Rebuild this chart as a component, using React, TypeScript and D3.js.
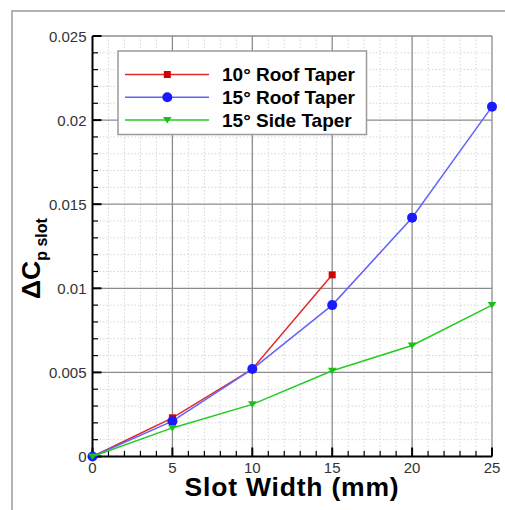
import React from "react";
import * as d3 from "d3";

// Slot width (mm) sampled for each configuration
const slotWidths = [0, 5, 10, 15, 20, 25];

// ΔCp slot per configuration
const roof10 = [0, 0.0023, 0.0052, 0.0108];
const roof15 = [0, 0.0021, 0.0052, 0.009, 0.0142, 0.0208];
const side15 = [0, 0.0017, 0.0031, 0.0051, 0.0066, 0.009];

const seriesNames = ["10° Roof Taper", "15° Roof Taper", "15° Side Taper"];

const xTicks = [0, 5, 10, 15, 20, 25];
const yTicks = [0, 0.005, 0.01, 0.015, 0.02, 0.025];
const yTickLabels = ["0", "0.005", "0.01", "0.015", "0.02", "0.025"];

const W = 505;
const H = 510;
const plot = { left: 92.5, right: 492, top: 36, bottom: 456.5 };
const FONT = "'Liberation Sans', Arial, Helvetica, sans-serif";

type Marker = "square" | "circle" | "triangle";

const series: { name: string; values: number[]; line: string; fill: string; marker: Marker }[] = [
  { name: seriesNames[0], values: roof10, line: "#e02a2a", fill: "#d40000", marker: "square" },
  { name: seriesNames[1], values: roof15, line: "#6262ff", fill: "#1a1aff", marker: "circle" },
  { name: seriesNames[2], values: side15, line: "#22cc22", fill: "#18c018", marker: "triangle" },
];

function MarkerShape({ kind, x, y, fill }: { kind: Marker; x: number; y: number; fill: string }) {
  if (kind === "square") return <rect x={x - 3.5} y={y - 3.5} width={7} height={7} fill={fill} />;
  if (kind === "circle") return <circle cx={x} cy={y} r={5} fill={fill} />;
  return <path d={`M${x - 4.3},${y - 3} L${x + 4.3},${y - 3} L${x},${y + 3.5} Z`} fill={fill} />;
}

export default function App() {
  const x = d3.scaleLinear().domain([0, 25]).range([plot.left, plot.right]);
  const y = d3.scaleLinear().domain([0, 0.025]).range([plot.bottom, plot.top]);

  const xMinor = d3.range(0, 26, 1).filter((v) => v % 5 !== 0);
  const yMinor = d3.range(0, 26, 1).filter((v) => v % 5 !== 0).map((v) => v / 1000);

  const line = d3
    .line<number>()
    .x((_, i) => x(slotWidths[i]))
    .y((d) => y(d));

  return (
    <svg
      width={W}
      height={H}
      style={{ position: "absolute", left: 0, top: 0, background: "#fff" }}
      fontFamily={FONT}
    >
      {/* outer frame */}
      <path d={`M12,${H + 2} L12,11 L${W + 2},11`} fill="none" stroke="#9a9a9a" strokeWidth={1.5} />

      {/* minor grid */}
      <g stroke="#d6d6d6" strokeWidth={1} strokeDasharray="1.5,2">
        {xMinor.map((v) => (
          <line key={`xm${v}`} x1={x(v)} x2={x(v)} y1={plot.top} y2={plot.bottom} />
        ))}
        {yMinor.map((v) => (
          <line key={`ym${v}`} x1={plot.left} x2={plot.right} y1={y(v)} y2={y(v)} />
        ))}
      </g>

      {/* major grid */}
      <g stroke="#8c8c8c" strokeWidth={1.3}>
        {xTicks.slice(1).map((v) => (
          <line key={`xg${v}`} x1={x(v)} x2={x(v)} y1={plot.top} y2={plot.bottom} />
        ))}
        {yTicks.slice(1).map((v) => (
          <line key={`yg${v}`} x1={plot.left} x2={plot.right} y1={y(v)} y2={y(v)} />
        ))}
      </g>

      {/* axes */}
      <g stroke="#000">
        <line x1={plot.left} x2={plot.left} y1={plot.top} y2={plot.bottom} strokeWidth={2} />
        <line x1={plot.left} x2={plot.right} y1={plot.bottom} y2={plot.bottom} strokeWidth={2} />
        {yTicks.map((v) => (
          <line key={`yt${v}`} x1={plot.left} x2={plot.left + 9} y1={y(v)} y2={y(v)} strokeWidth={2} />
        ))}
        {yMinor.map((v) => (
          <line key={`ymt${v}`} x1={plot.left} x2={plot.left + 5.5} y1={y(v)} y2={y(v)} strokeWidth={1.2} />
        ))}
        {xTicks.map((v) => (
          <line key={`xt${v}`} x1={x(v)} x2={x(v)} y1={plot.bottom} y2={plot.bottom - 9} strokeWidth={2} />
        ))}
        {xMinor.map((v) => (
          <line key={`xmt${v}`} x1={x(v)} x2={x(v)} y1={plot.bottom} y2={plot.bottom - 5.5} strokeWidth={1.2} />
        ))}
      </g>

      {/* tick labels */}
      <g fontSize={15} fill="#333">
        {yTicks.map((v, i) => (
          <text key={`yl${v}`} x={plot.left - 6} y={y(v)} textAnchor="end" dominantBaseline="central">
            {yTickLabels[i]}
          </text>
        ))}
        {xTicks.map((v) => (
          <text key={`xl${v}`} x={x(v)} y={472.5} textAnchor="middle">
            {v}
          </text>
        ))}
      </g>

      {/* series */}
      {series.map((s) => (
        <g key={s.name}>
          <path d={line(s.values) ?? ""} fill="none" stroke={s.line} strokeWidth={1.5} />
          {s.values.map((v, i) => (
            <MarkerShape key={i} kind={s.marker} x={x(slotWidths[i])} y={y(v)} fill={s.fill} />
          ))}
        </g>
      ))}

      {/* legend */}
      <g>
        <rect x={118} y={51} width={248.5} height={83.5} fill="#fff" stroke="#9a9a9a" strokeWidth={1.5} />
        {series.map((s, i) => {
          const ly = 74.5 + i * 22.8;
          return (
            <g key={`lg${s.name}`}>
              <line x1={125} x2={209} y1={ly} y2={ly} stroke={s.line} strokeWidth={1.5} />
              <MarkerShape kind={s.marker} x={167.3} y={ly} fill={s.fill} />
              <text x={222} y={ly} dominantBaseline="central" fontSize={19} fontWeight="bold" fill="#000">
                {s.name}
              </text>
            </g>
          );
        })}
      </g>

      {/* axis titles */}
      <text
        x={292}
        y={495.5}
        textAnchor="middle"
        fontSize={26.5}
        fontWeight="bold"
        letterSpacing={0.8}
        fill="#000"
      >
        Slot Width (mm)
      </text>
      <text transform="translate(40,299) rotate(-90)" fontWeight="bold" fill="#000">
        <tspan fontSize={26.5}>ΔC</tspan>
        <tspan fontSize={16} dy={7}>
          p slot
        </tspan>
      </text>
    </svg>
  );
}
